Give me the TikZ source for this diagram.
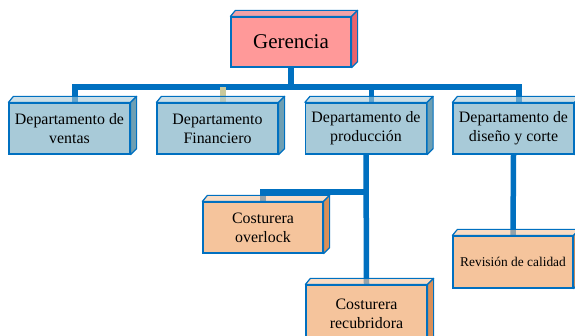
\documentclass[tikz,border=0pt]{standalone}
\usepackage{fontspec}
\setmainfont{Liberation Serif}
\usetikzlibrary{positioning,calc,backgrounds}
\definecolor{azul}{HTML}{0070C0}
\definecolor{rosa}{HTML}{FF9999}
\definecolor{rosaosc}{HTML}{E8646C}
\definecolor{celeste}{HTML}{A8CAD8}
\definecolor{celesteosc}{HTML}{6E9FB3}
\definecolor{durazno}{HTML}{F5C49C}
\definecolor{duraznoosc}{HTML}{D98F58}
\definecolor{beige}{HTML}{C9C99B}

\begin{document}
\begin{tikzpicture}[x=1pt,y=-1pt,
  caja/.style={draw=azul,line width=1.2pt,align=center,inner sep=0pt,font=\fontsize{15.9}{19}\selectfont},
  jefe/.style={caja,fill=rosa,minimum width=120pt,minimum height=50pt,font=\fontsize{21}{25}\selectfont},
  depto/.style={caja,fill=celeste,minimum width=121pt,minimum height=51pt},
  puesto/.style={caja,fill=durazno,minimum width=120pt,minimum height=51pt},
  linea/.style={draw=azul,line width=5.5pt},
  cara/.style={draw=azul,line width=1.2pt,line join=round}]
  \useasboundingbox (0,0) rectangle (575,336);
  \coordinate (bus) at (0,87);
  \coordinate (rama) at (0,192);

  % cajas
  \node[jefe] (ger) at (291,42) {Gerencia};
  \node[depto] (ventas) at (69.5,128.5) {Departamento de\\ventas};
  \node[depto] (fin) at (217.5,128.5) {Departamento\\Financiero};
  \node[depto] (prod) at (366,128.5) {Departamento de\\producción};
  \node[depto] (dis) at (513.5,128.5) {Departamento de\\diseño y corte};
  \node[puesto] (over) at (263,227.5) {Costurera\\overlock};
  \node[puesto,minimum width=121pt,minimum height=58pt] (recub) at (366.5,314) {Costurera\\recubridora};
  \node[puesto,minimum height=52pt,font=\fontsize{13.4}{16}\selectfont] (rev) at (513,262) {Revisión de calidad};

  % caras 3D
  \foreach \n/\arriba/\lado in {ger/rosaosc/rosaosc, ventas/celeste/celesteosc, fin/celeste/celesteosc,
      prod/celeste/celesteosc, dis/celeste/celesteosc, over/durazno/duraznoosc,
      recub/durazno/duraznoosc, rev/durazno/duraznoosc}{
    \filldraw[cara,fill=\arriba,fill opacity=0.6] (\n.north west) -- ++(5,-6) -- ([shift={(6,-6)}]\n.north east) -- (\n.north east) -- cycle;
    \filldraw[cara,fill=\lado] (\n.north east) -- ++(6,-6) -- ([shift={(6,-6)}]\n.south east) -- (\n.south east) -- cycle;
  }

  % conectores
  \begin{scope}[on background layer]
    \draw[linea] ([xshift=5.5pt]ventas.north) |- ([xshift=5.5pt]dis.north |- bus) -- ([xshift=5.5pt]dis.north);
    \draw[linea] (ger.south) -- (ger.south |- bus);
    \draw[linea,draw=beige] ([xshift=5.5pt]fin.north) -- ([xshift=5.5pt]fin.north |- bus);
    \draw[linea] ([xshift=5.5pt]prod.north) -- ([xshift=5.5pt]prod.north |- bus);
    \draw[linea] (prod.south) -- (recub.north);
    \draw[linea] (prod.south |- rama) -| (over.north);
    \draw[linea] (dis.south) -- (rev.north);
  \end{scope}
\end{tikzpicture}
\end{document}
